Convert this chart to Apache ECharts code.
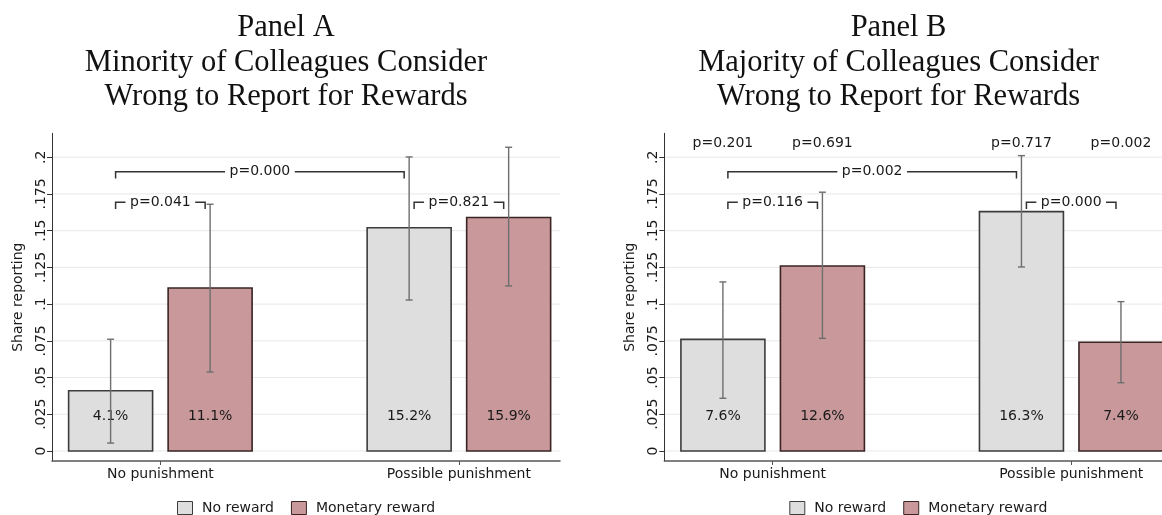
<!DOCTYPE html>
<html>
<head>
<meta charset="utf-8">
<script src="https://cdn.jsdelivr.net/npm/echarts@6/dist/echarts.min.js"></script>
<style>
html,body{margin:0;padding:0;background:#fff;}
#chart{width:1162px;height:515px;}
</style>
</head>
<body>
<div id="chart"></div>
<script>
// ---------------- DATA ----------------
const GROUPS = ['No punishment', 'Possible punishment'];
const REWARDS = ['No reward', 'Monetary reward'];
const PANEL_TITLES = [
  'Panel A\nMinority of Colleagues Consider\nWrong to Report for Rewards',
  'Panel B\nMajority of Colleagues Consider\nWrong to Report for Rewards'
];
const Y_TICKS = [0, 0.025, 0.05, 0.075, 0.1, 0.125, 0.15, 0.175, 0.2];
const Y_TICK_LABELS = ['0', '.025', '.05', '.075', '.1', '.125', '.15', '.175', '.2'];
const Y_TITLE = 'Share reporting';

// Panel A
const A_NO_REWARD = [0.041, 0.152];
const A_MONETARY = [0.111, 0.159];
const A_NO_REWARD_CI = [[0.0054, 0.0761], [0.1028, 0.2002]];
const A_MONETARY_CI = [[0.0538, 0.1680], [0.1124, 0.2068]];
const A_P_WITHIN = ['p=0.041', 'p=0.821'];
const A_P_ACROSS = 'p=0.000';
const A_P_TOP = [];

// Panel B
const B_NO_REWARD = [0.076, 0.163];
const B_MONETARY = [0.126, 0.074];
const B_NO_REWARD_CI = [[0.0359, 0.1151], [0.1253, 0.2011]];
const B_MONETARY_CI = [[0.0767, 0.1762], [0.0465, 0.1017]];
const B_P_WITHIN = ['p=0.116', 'p=0.000'];
const B_P_ACROSS = 'p=0.002';
const B_P_TOP = ['p=0.201', 'p=0.691', 'p=0.717', 'p=0.002'];

// ---------------- LAYOUT / STYLE ----------------
const X_MIN = 0.411, X_MAX = 5.516;
const Y_MIN = -0.00681, Y_MAX = 0.2163;
const BAR_W = 0.844;
const LABEL_Y = 0.0245;
const LEVEL_ACROSS = 0.1902, LEVEL_WITHIN = 0.1694, LEVEL_TOP = 0.2097;
const BRACKET_INSET = 0.05;
const FILLS = ['#dedede', '#c8989b'];
const STROKES = ['#3c3c3c', '#3a2424'];
const SANS = '"DejaVu Sans"';
const TXT = '#1a1a1a';
const GRID_LEFT = [52, 664.3];

function pos(g, r) { return 1 + 3 * g + r; }

const measureCtx = document.createElement('canvas').getContext('2d');
measureCtx.font = '14px "DejaVu Sans"';
function textW(t) { return measureCtx.measureText(t).width; }

const panels = [
  {noR: A_NO_REWARD, mon: A_MONETARY, noRCI: A_NO_REWARD_CI, monCI: A_MONETARY_CI, within: A_P_WITHIN, across: A_P_ACROSS, top: A_P_TOP},
  {noR: B_NO_REWARD, mon: B_MONETARY, noRCI: B_NO_REWARD_CI, monCI: B_MONETARY_CI, within: B_P_WITHIN, across: B_P_ACROSS, top: B_P_TOP}
];

const grids = [], xAxes = [], yAxes = [], series = [], titles = [], legends = [];

panels.forEach((P, p) => {
  grids.push({left: GRID_LEFT[p], top: 133.3, width: 508, height: 327.7, containLabel: false, outerBoundsMode: 'none'});
  xAxes.push({
    type: 'value', gridIndex: p, min: X_MIN, max: X_MAX,
    axisLine: {show: true, onZero: false, lineStyle: {color: '#555', width: 1.5}},
    axisTick: {show: true, customValues: [1.5, 4.5], length: 4, lineStyle: {color: '#555', width: 1}},
    axisLabel: {customValues: [1.5, 4.5], formatter: v => GROUPS[v < 3 ? 0 : 1], margin: 6,
      fontSize: 14, fontFamily: SANS, color: TXT},
    splitLine: {show: false}
  });
  yAxes.push({
    type: 'value', gridIndex: p, min: Y_MIN, max: Y_MAX,
    axisLine: {show: true, onZero: false, lineStyle: {color: '#333', width: 1}},
    axisTick: {show: true, customValues: Y_TICKS, length: 5, lineStyle: {color: '#333', width: 1}},
    axisLabel: {customValues: Y_TICKS, rotate: 90, margin: 4, fontSize: 14, fontFamily: SANS, color: TXT,
      formatter: v => { const i = Y_TICKS.findIndex(t => Math.abs(t - v) < 1e-9); return i >= 0 ? Y_TICK_LABELS[i] : ''; }},
    splitLine: {show: false},
    name: Y_TITLE, nameLocation: 'middle', nameGap: 27,
    nameTextStyle: {fontSize: 14, fontFamily: SANS, color: TXT}
  });

  // gridlines
  series.push({
    type: 'custom', xAxisIndex: p, yAxisIndex: p, silent: true, z: 0,
    data: Y_TICKS.map(v => [1, v]), encode: {x: 0, y: 1},
    renderItem: (params, api) => {
      const cs = params.coordSys;
      const y = api.coord([1, api.value(1)])[1];
      return {type: 'line', shape: {x1: cs.x, y1: y, x2: cs.x + cs.width, y2: y},
        style: {stroke: '#e8e8e8', lineWidth: 1}};
    }
  });

  // bars
  [P.noR, P.mon].forEach((vals, r) => {
    series.push({
      type: 'custom', name: REWARDS[r], xAxisIndex: p, yAxisIndex: p, z: 2,
      itemStyle: {color: FILLS[r], borderColor: STROKES[r], borderWidth: 1.5},
      data: vals.map((v, g) => [pos(g, r), v]), encode: {x: 0, y: 1},
      renderItem: (params, api) => {
        const x = api.value(0), v = api.value(1);
        const a = api.coord([x - BAR_W / 2, v]);
        const b = api.coord([x + BAR_W / 2, 0]);
        return {type: 'rect', shape: {x: a[0], y: a[1], width: b[0] - a[0], height: b[1] - a[1]},
          style: {fill: FILLS[r], stroke: STROKES[r], lineWidth: 1.6}};
      }
    });
  });

  // value labels
  [P.noR, P.mon].forEach((vals, r) => {
    series.push({
      type: 'custom', xAxisIndex: p, yAxisIndex: p, z: 4, silent: true,
      data: vals.map((v, g) => [pos(g, r), v]), encode: {x: 0, y: 1},
      renderItem: (params, api) => {
        const c = api.coord([api.value(0), LABEL_Y]);
        return {type: 'text', style: {text: (api.value(1) * 100).toFixed(1) + '%', x: c[0], y: c[1] + 1.5,
          align: 'center', verticalAlign: 'middle', font: '14px "DejaVu Sans"', fill: TXT}};
      }
    });
  });

  // error bars
  [P.noRCI, P.monCI].forEach((cis, r) => {
    series.push({
      type: 'custom', xAxisIndex: p, yAxisIndex: p, z: 5, silent: true,
      data: cis.map((ci, g) => [pos(g, r), ci[0], ci[1]]), encode: {x: 0, y: [1, 2]},
      renderItem: (params, api) => {
        const x = api.value(0);
        const lo = api.coord([x, api.value(1)]), hi = api.coord([x, api.value(2)]);
        const st = {stroke: '#6e6e6e', lineWidth: 1.4};
        const cw = 3.5;
        return {type: 'group', children: [
          {type: 'line', shape: {x1: lo[0], y1: lo[1], x2: hi[0], y2: hi[1]}, style: st},
          {type: 'line', shape: {x1: lo[0] - cw, y1: lo[1], x2: lo[0] + cw, y2: lo[1]}, style: st},
          {type: 'line', shape: {x1: hi[0] - cw, y1: hi[1], x2: hi[0] + cw, y2: hi[1]}, style: st}
        ]};
      }
    });
  });

  // brackets
  const brackets = [
    [pos(0, 0) + BRACKET_INSET, pos(1, 0) - BRACKET_INSET, LEVEL_ACROSS, P.across],
    [pos(0, 0) + BRACKET_INSET, pos(0, 1) - BRACKET_INSET, LEVEL_WITHIN, P.within[0]],
    [pos(1, 0) + BRACKET_INSET, pos(1, 1) - BRACKET_INSET, LEVEL_WITHIN, P.within[1]]
  ];
  series.push({
    type: 'custom', xAxisIndex: p, yAxisIndex: p, z: 6, silent: true,
    data: brackets.map(b => [b[0], b[2], b[1]]), encode: {x: [0, 2], y: 1},
    renderItem: (params, api) => {
      const t = brackets[params.dataIndex][3];
      const a = api.coord([api.value(0), api.value(1)]);
      const b = api.coord([api.value(2), api.value(1)]);
      const cx = (a[0] + b[0]) / 2, y = a[1];
      const hw = textW(t) / 2 + 4.5;
      const st = {stroke: '#333333', lineWidth: 1.5};
      const tick = 6.8;
      return {type: 'group', children: [
        {type: 'polyline', shape: {points: [[a[0], y + tick], [a[0], y], [cx - hw, y]]}, style: Object.assign({fill: null}, st)},
        {type: 'polyline', shape: {points: [[cx + hw, y], [b[0], y], [b[0], y + tick]]}, style: Object.assign({fill: null}, st)},
        {type: 'text', style: {text: t, x: cx, y: y, align: 'center', verticalAlign: 'middle',
          font: '14px "DejaVu Sans"', fill: TXT}}
      ]};
    }
  });

  // top p-values
  if (P.top.length) {
    series.push({
      type: 'custom', xAxisIndex: p, yAxisIndex: p, z: 6, silent: true,
      data: P.top.map((t, i) => [pos(Math.floor(i / 2), i % 2), LEVEL_TOP]), encode: {x: 0, y: 1},
      renderItem: (params, api) => {
        const c = api.coord([api.value(0), api.value(1)]);
        return {type: 'text', style: {text: P.top[params.dataIndex], x: c[0], y: c[1], align: 'center',
          verticalAlign: 'middle', font: '14px "DejaVu Sans"', fill: TXT}};
      }
    });
  }

  titles.push({
    text: PANEL_TITLES[p], left: [286, 898.5][p], top: 11, textAlign: 'center', padding: 0,
    textStyle: {fontFamily: '"Liberation Serif"', fontSize: 30.5, fontWeight: 'normal', lineHeight: 34.5, color: '#111'}
  });

  legends.push({
    left: GRID_LEFT[p] + 125, top: 501, padding: 0, itemGap: 17, itemWidth: 15, itemHeight: 13,
    icon: 'rect', selectedMode: false,
    formatter: n => ' ' + n,
    textStyle: {fontSize: 14, fontFamily: SANS, color: TXT},
    data: REWARDS.map((n, r) => ({name: n, itemStyle: {color: FILLS[r], borderColor: STROKES[r], borderWidth: 1}}))
  });
});

const chart = echarts.init(document.getElementById('chart'), null, {renderer: 'canvas'});
chart.setOption({
  backgroundColor: '#ffffff',
  animation: false,
  title: titles,
  legend: legends,
  grid: grids,
  xAxis: xAxes,
  yAxis: yAxes,
  series: series
});
</script>
</body>
</html>
